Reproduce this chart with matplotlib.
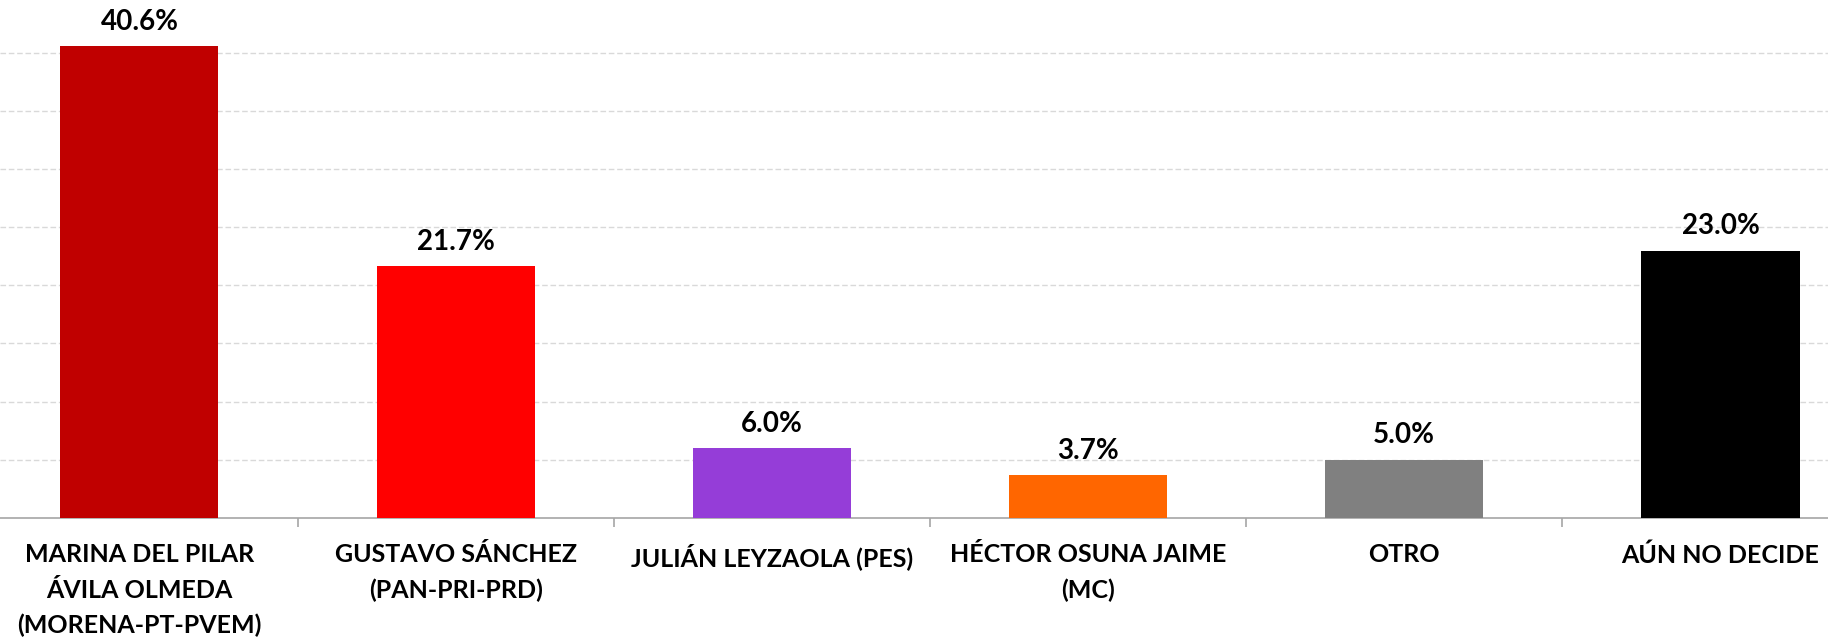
import matplotlib
matplotlib.use("Agg")
import matplotlib.pyplot as plt

categories = [
    "MARINA DEL PILAR\nÁVILA OLMEDA\n(MORENA-PT-PVEM)",
    "GUSTAVO SÁNCHEZ\n(PAN-PRI-PRD)",
    "JULIÁN LEYZAOLA (PES)",
    "HÉCTOR OSUNA JAIME\n(MC)",
    "OTRO",
    "AÚN NO DECIDE",
]
values = [40.6, 21.7, 6.0, 3.7, 5.0, 23.0]
colors = ["#C00000", "#FF0000", "#953DD8", "#FF6600", "#808080", "#000000"]
gridlines = [5, 10, 15, 20, 25, 30, 35, 40]

plt.rcParams['font.family'] = ['Lato', 'DejaVu Sans']

fig = plt.figure(figsize=(18.28, 6.41), dpi=100)
ax = fig.add_axes([0, 0.1924, 1, 0.8076])

x = list(range(len(categories)))
ax.bar(x, values, width=0.5, color=colors, zorder=3)

for g in gridlines:
    ax.axhline(g, color="#D9D9D9", linestyle=(0, (4, 2)), linewidth=1.0, zorder=1)

for xi, v in zip(x, values):
    ax.annotate(f"{v:.1f}%", (xi, v), xytext=(0, 8), textcoords="offset points",
                ha="center", va="bottom", fontsize=20, fontweight="bold", color="black")

for s in ["top", "left", "right"]:
    ax.spines[s].set_visible(False)
ax.spines["bottom"].set_color("#A6A6A6")
ax.spines["bottom"].set_linewidth(1.2)

ax.set_yticks([])
ax.set_xticks([i + 0.5 for i in range(len(categories) - 1)])
ax.set_xticklabels([])
ax.tick_params(axis="x", which="major", length=6.5, width=1.2, color="#A6A6A6", direction="out")

ax.set_xlim(-0.441, 5.340)
ax.set_ylim(0, 44.57)

for xi, lab in zip(x, categories):
    ax.annotate(lab, (xi, 0), xytext=(0, -18.5), textcoords="offset points",
                ha="center", va="top", fontsize=18, fontweight="bold", color="black",
                linespacing=1.64)

fig.savefig("out.png", dpi=100)
